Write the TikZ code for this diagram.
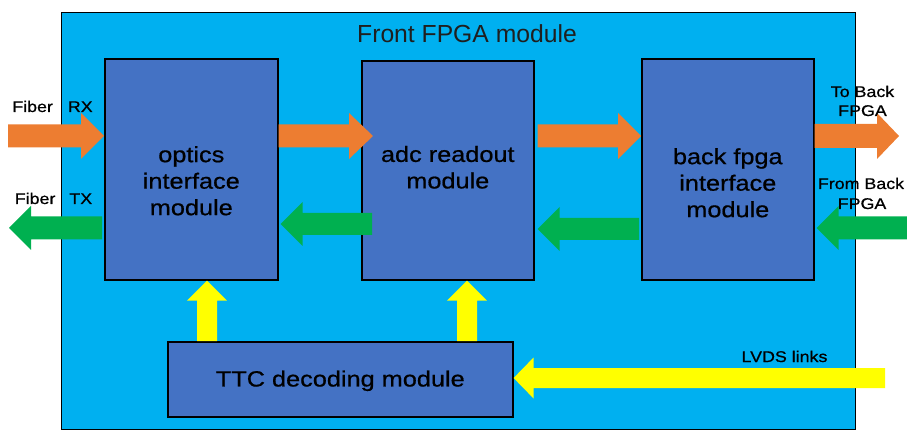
\documentclass[tikz,border=0pt]{standalone}
\usepackage{fontspec}
\setmainfont{Liberation Sans}
\newfontfamily\widesans{Liberation Sans}[FakeStretch=1.15, FakeBold=0.7]
\usetikzlibrary{calc}

\definecolor{panelblue}{HTML}{00B0F0}
\definecolor{blockblue}{HTML}{4472C4}
\definecolor{sigorange}{HTML}{ED7D31}
\definecolor{siggreen}{HTML}{00B050}
\definecolor{sigyellow}{HTML}{FFFF00}

% Block arrow from tail #2 to tip #3:
% #1 colour, #4 shaft half width, #5 head half width, #6 head length
\newcommand\blockarrow[6]{%
  \coordinate (ba-b) at ($(#3)!#6!(#2)$);
  \fill[#1] ($(#2)!#4!90:(#3)$) -- ($(ba-b)!#4!90:(#3)$) -- ($(ba-b)!#5!90:(#3)$)
    -- (#3) -- ($(ba-b)!#5!-90:(#3)$) -- ($(ba-b)!#4!-90:(#3)$)
    -- ($(#2)!#4!-90:(#3)$) -- cycle;}

\begin{document}
\begin{tikzpicture}[x=1pt, y=-1pt,
  panel/.style={draw=black, line width=1.2pt, fill=panelblue, inner sep=0pt, anchor=north west},
  block/.style={draw=black, line width=1.6pt, fill=blockblue, inner sep=0pt, anchor=north west},
  blocktext/.style={align=center, inner sep=0pt, font=\widesans\fontsize{22}{26.5}\selectfont},
  sidetext/.style={align=center, inner sep=0pt, font=\widesans\fontsize{15.5}{19}\selectfont},
]
\useasboundingbox (0,0) rectangle (907,430);

% enclosing module
\node[panel, minimum width=794pt, minimum height=417pt] (front) at (61,12) {};
\node[anchor=base, inner sep=0pt, text=black!88, font=\fontsize{24.7}{28}\selectfont] (title) at (467,43) {Front FPGA module};

% functional blocks
\node[block, minimum width=173pt, minimum height=221pt] (optics) at (104,58) {};
\node[block, minimum width=172pt, minimum height=219pt] (adc) at (361,60) {};
\node[block, minimum width=172pt, minimum height=221pt] (back) at (641,58) {};
\node[block, minimum width=345pt, minimum height=75pt] (ttc) at (167,341) {};

\node[blocktext] (optics-text) at ([yshift=-11.5pt]optics.center) {optics\\interface\\module};
\node[blocktext] (adc-text) at ([yshift=3pt]adc.center) {adc readout\\module};
\node[blocktext] (back-text) at ([yshift=-13.5pt]back.center) {back fpga\\interface\\module};
\node[blocktext] (ttc-text) at ([yshift=-1.5pt]ttc.center) {TTC decoding module};

% signal rows
\coordinate (rowO) at (0,136);
\coordinate (rowG) at (0,228);
\coordinate (rowGm) at (0,224);
\coordinate (rowGb) at (0,229);

% fibre links
\coordinate (rx-tail) at (8,136);
\coordinate (rx-tip) at (optics.west |- rowO);
\blockarrow{sigorange}{rx-tail}{rx-tip}{11.5pt}{23pt}{23pt}
\coordinate (tx-tail) at ([xshift=-2pt]optics.west |- rowG);
\coordinate (tx-tip) at (9,228);
\blockarrow{siggreen}{tx-tail}{tx-tip}{11.5pt}{22pt}{22pt}

% optics <-> adc
\coordinate (o1-tail) at (optics.east |- rowO);
\coordinate (o1-tip) at ([xshift=12pt]adc.west |- rowO);
\blockarrow{sigorange}{o1-tail}{o1-tip}{11.5pt}{23pt}{24pt}
\coordinate (g1-tail) at ([xshift=11pt]adc.west |- rowGm);
\coordinate (g1-tip) at ([xshift=2pt]optics.east |- rowGm);
\blockarrow{siggreen}{g1-tail}{g1-tip}{11pt}{22pt}{22pt}

% adc <-> back fpga interface
\coordinate (o2-tail) at ([xshift=3pt]adc.east |- rowO);
\coordinate (o2-tip) at (back.west |- rowO);
\blockarrow{sigorange}{o2-tail}{o2-tip}{11.5pt}{23pt}{23pt}
\coordinate (g2-tail) at ([xshift=-2pt]back.west |- rowGb);
\coordinate (g2-tip) at ([xshift=3pt]adc.east |- rowGb);
\blockarrow{siggreen}{g2-tail}{g2-tip}{11pt}{22pt}{22pt}

% links to the back FPGA
\coordinate (tb-tail) at (back.east |- rowO);
\coordinate (tb-tip) at (899,136);
\blockarrow{sigorange}{tb-tail}{tb-tip}{12pt}{23pt}{22pt}
\coordinate (fb-tail) at (907,228);
\coordinate (fb-tip) at ([xshift=2pt]back.east |- rowG);
\blockarrow{siggreen}{fb-tail}{fb-tip}{11.5pt}{22pt}{22pt}

% timing distribution
\coordinate (y1-tail) at ([xshift=40pt]ttc.north west);
\coordinate (y1-tip) at (optics.south -| y1-tail);
\blockarrow{sigyellow}{y1-tail}{y1-tip}{10pt}{20pt}{20pt}
\coordinate (y2-tail) at ([xshift=300pt]ttc.north west);
\coordinate (y2-tip) at (adc.south -| y2-tail);
\blockarrow{sigyellow}{y2-tail}{y2-tip}{10pt}{20pt}{20pt}
\coordinate (lv-tail) at (885,378);
\coordinate (lv-tip) at (ttc.east |- lv-tail);
\blockarrow{sigyellow}{lv-tail}{lv-tip}{10pt}{20.5pt}{20pt}

% side labels
\node[sidetext, anchor=base] (rx-label) at (52.5,112) {Fiber\hspace{15pt}RX};
\node[sidetext, anchor=base] (tx-label) at (53.5,204) {Fiber\hspace{14pt}TX};
\node[sidetext, anchor=base] (tb-label1) at (862.5,97) {To Back};
\node[sidetext, anchor=base] (tb-label2) at (862.5,116) {FPGA};
\node[sidetext, anchor=base] (fb-label1) at (861,189) {From Back};
\node[sidetext, anchor=base] (fb-label2) at (862,209) {FPGA};
\node[sidetext, anchor=base] (lvds-label) at (784.5,362) {LVDS links};
\end{tikzpicture}
\end{document}
